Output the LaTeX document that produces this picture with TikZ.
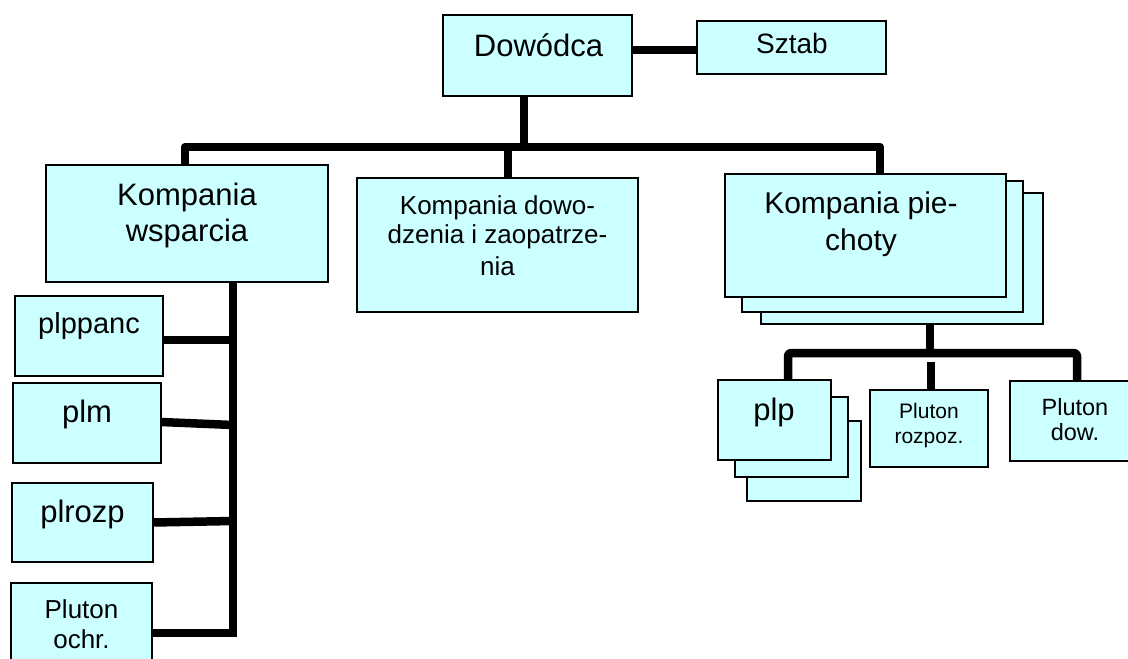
\documentclass[tikz,border=0pt]{standalone}
\usepackage{fontspec}
\setmainfont{Liberation Sans}
\definecolor{boxfill}{HTML}{CCFFFF}
\begin{document}
\begin{tikzpicture}[x=1pt,y=-1pt,
  box/.style={draw=black,line width=1.8pt,fill=boxfill,anchor=north west,inner sep=0pt,outer sep=0pt},
  conn/.style={line width=8.5pt,draw=black,line join=round},
  txt/.style={anchor=base,inner sep=0pt,align=center},
  fs/.style={font=\fontsize{#1}{#1}\selectfont}]
\useasboundingbox (0,0) rectangle (1128,659);
% top level
\node[box,minimum width=189pt,minimum height=81pt] (dow) at (443,15) {};
\node[box,minimum width=189pt,minimum height=53pt] (sztab) at (697,21) {};
\node[txt,fs=31] (tdow) at (538.5,56) {Dowódca};
\node[txt,fs=28] (tsztab) at (792,53) {Sztab};
% second level
\node[box,minimum width=282pt,minimum height=117pt] (kw) at (46,165) {};
\node[box,minimum width=281pt,minimum height=134pt] (kd) at (357,178) {};
\node[box,minimum width=282pt,minimum height=131pt] (kp3) at (761,193) {};
\node[box,minimum width=281pt,minimum height=131pt] (kp2) at (742,181) {};
\node[box,minimum width=281pt,minimum height=123pt] (kp1) at (725,174) {};
\node[txt,fs=31] (tkw1) at (187,205) {Kompania};
\node[txt,fs=31] (tkw2) at (187,241) {wsparcia};
\node[txt,fs=26] (tkd1) at (497.5,214) {Kompania dowo-};
\node[txt,fs=26] (tkd2) at (497.5,243) {dzenia i zaopatrze-};
\node[txt,fs=26] (tkd3) at (497.5,275) {nia};
\node[txt,fs=30] (tkp1) at (861,213) {Kompania pie-};
\node[txt,fs=30] (tkp2) at (861,250) {choty};
% infantry sub-units
\node[box,minimum width=114pt,minimum height=80pt] (plp3) at (747,421) {};
\node[box,minimum width=113pt,minimum height=80pt] (plp2) at (735,397) {};
\node[box,minimum width=113pt,minimum height=80pt] (plp1) at (718,380) {};
\node[box,minimum width=118pt,minimum height=77pt] (pr) at (870,390) {};
\node[box,minimum width=130pt,minimum height=80pt] (pd) at (1010,381) {};
\node[txt,fs=31] (tplp) at (774,420) {plp};
\node[txt,fs=21] (tpr1) at (929,418) {Pluton};
\node[txt,fs=21] (tpr2) at (929,443) {rozpoz.};
\node[txt,fs=23.5] (tpd1) at (1075,415) {Pluton};
\node[txt,fs=23.5] (tpd2) at (1075,440) {dow.};
% support sub-units
\node[box,minimum width=148pt,minimum height=80pt] (plppanc) at (15,296) {};
\node[box,minimum width=148pt,minimum height=80pt] (plm) at (13,383) {};
\node[box,minimum width=141pt,minimum height=79pt] (plrozp) at (12,483) {};
\node[box,minimum width=141pt,minimum height=90pt] (po) at (11,583) {};
\node[txt,fs=29] (tplppanc) at (89,333) {plppanc};
\node[txt,fs=31] (tplm) at (87,422) {plm};
\node[txt,fs=31] (tplrozp) at (82.5,522) {plrozp};
\node[txt,fs=26] (tpo1) at (81.5,618) {Pluton};
\node[txt,fs=26] (tpo2) at (81.5,648) {ochr.};
% coordinates
\coordinate (busL) at (185,147);
\coordinate (busR) at (880,147);
\coordinate (sbL) at (788,353);
\coordinate (sbR) at (1077,353);
\coordinate (vb) at (233,633);
% connectors
\draw[conn] ([yshift=5.5pt]dow.east) -- ([yshift=5.5pt]dow.east -| sztab.west);
\draw[conn] ([xshift=-13.5pt]dow.south) -- ([xshift=-13.5pt]dow.south |- busL);
\draw[conn] (busL |- kw.north) -- (busL) -- (busR) -- (busR |- kp1.north);
\draw[conn] ([xshift=10.5pt]kd.north) -- ++(0,-28);
\draw[conn] ([xshift=28pt]kp3.south) -- ([xshift=28pt]kp3.south |- sbL);
\draw[conn,rounded corners=3pt] (sbL |- plp1.north) -- (sbL) -- (sbR) -- (sbR |- pd.north);
\draw[conn] ([xshift=2pt]pr.north) -- ++(0,-28);
\draw[conn,line join=miter] (vb |- kw.south) -- (vb) -- (vb -| po.east);
\draw[conn] ([yshift=-4pt]plppanc.east) -- ([yshift=-4pt]plppanc.east -| vb);
\draw[conn] ([yshift=1pt]plm.east) -- ([yshift=-2pt]plm.east -| vb);
\draw[conn] (plrozp.east) -- ([yshift=1.5pt]plrozp.east -| vb);
\end{tikzpicture}
\end{document}
